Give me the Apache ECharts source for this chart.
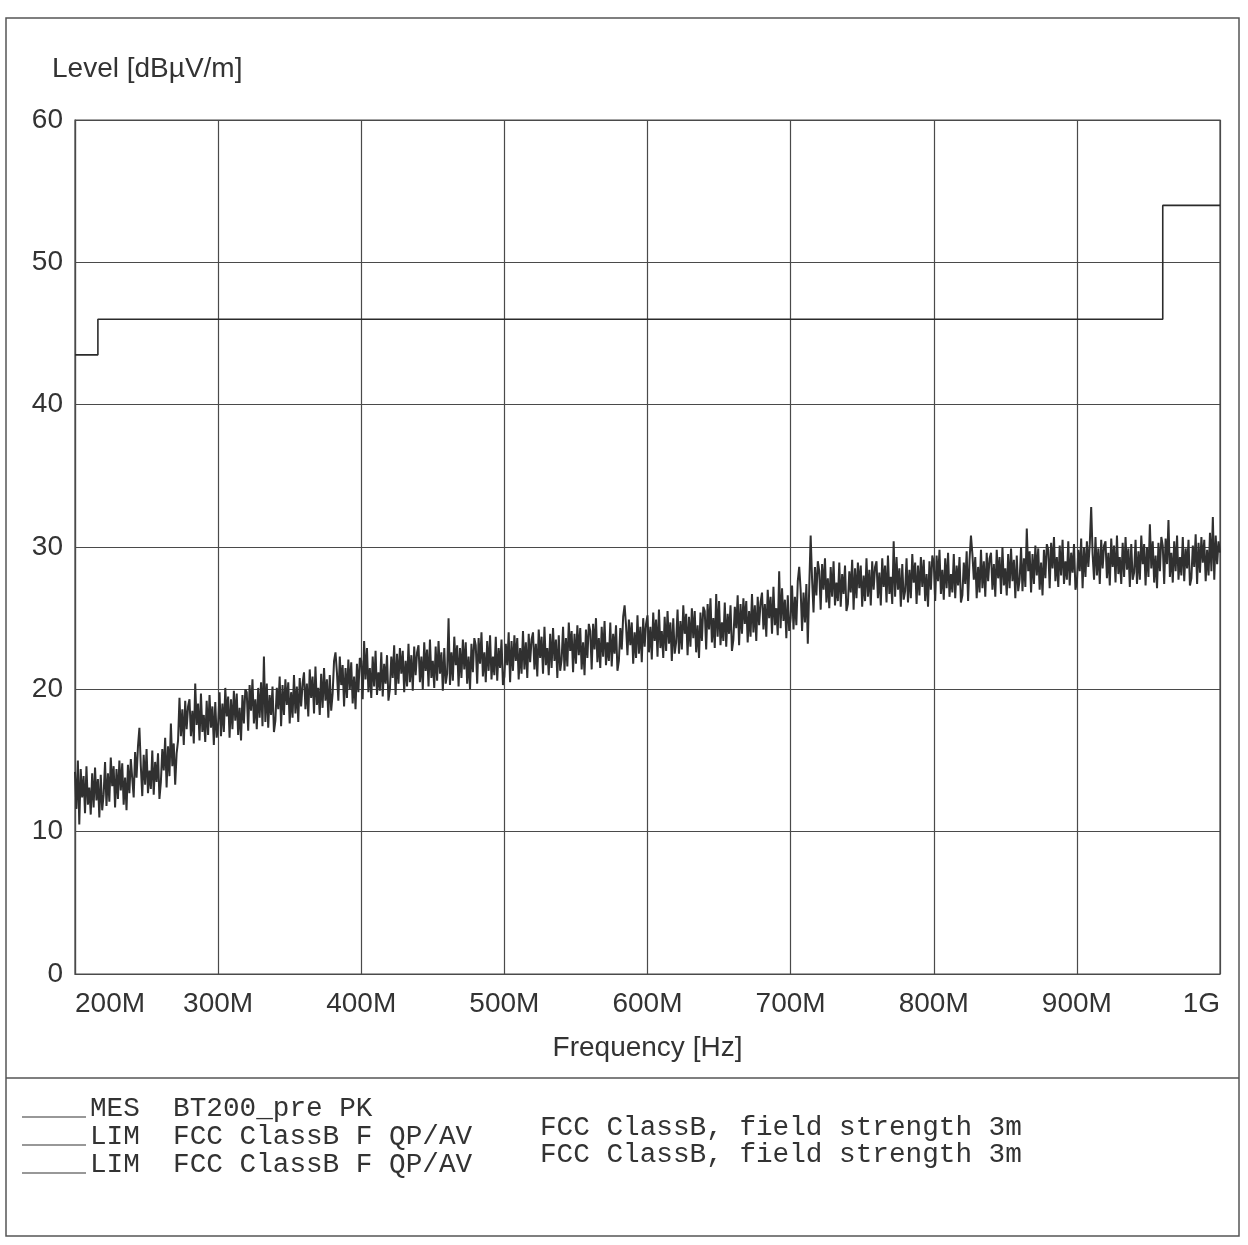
<!DOCTYPE html>
<html>
<head>
<meta charset="utf-8">
<script src="https://cdn.jsdelivr.net/npm/echarts@6/dist/echarts.min.js"></script>
<style>
  html, body { margin: 0; padding: 0; background: #ffffff; }
  #chart { width: 1248px; height: 1245px; }
</style>
</head>
<body>
<div id="chart"></div>
<script>
// ---- Data ----
// Measurement sweep: starts at 200 MHz, one reading every 1 MHz (801 readings up to 1 GHz)
const mesStartMHz = 200;
const mesStepMHz = 1;
const mesLevel = [
  // 200-219
  14.2, 11.6, 15.0, 10.5, 14.4, 12.4, 13.9, 11.3, 14.6, 11.9, 13.1, 11.2, 14.1, 11.7, 14.5, 12.2, 13.7, 11.0, 14.0, 11.5,
  // 220-239
  12.6, 14.9, 11.8, 14.1, 12.1, 15.2, 13.2, 14.6, 11.7, 14.4, 12.3, 15.0, 12.9, 14.8, 11.9, 13.8, 11.5, 14.7, 12.7, 15.1,
  // 240-259
  15.1, 12.4, 15.6, 13.8, 16.0, 17.3, 14.6, 12.5, 15.4, 13.3, 15.8, 12.7, 14.3, 13.0, 15.7, 12.6, 14.9, 13.5, 15.5, 12.3,
  // 260-271
  13.5, 15.8, 14.3, 16.6, 13.1, 16.0, 13.9, 17.6, 14.6, 16.2, 13.3, 15.5,
  // 272-279
  16.4, 19.4, 16.7, 18.6, 16.1, 19.2, 17.2, 18.8,
  // 280-299
  19.3, 16.7, 18.5, 16.2, 20.4, 17.5, 19.0, 16.4, 19.7, 17.0, 18.2, 16.3, 19.2, 16.8, 19.6, 17.3, 18.8, 16.1, 19.1, 16.6,
  // 300-319
  17.5, 19.8, 16.7, 19.0, 17.0, 20.1, 18.1, 19.5, 16.6, 19.3, 17.2, 19.9, 17.8, 19.7, 16.8, 18.7, 16.4, 19.6, 17.6, 20.0,
  // 320-339
  19.8, 17.1, 20.3, 18.5, 20.7, 17.6, 19.3, 17.2, 20.1, 18.0, 20.5, 17.4, 22.3, 17.7, 20.4, 17.3, 19.6, 18.2, 20.2, 17.0,
  // 340-359
  17.8, 20.1, 18.6, 20.9, 17.4, 20.3, 18.2, 20.7, 18.9, 20.5, 17.6, 19.8, 18.0, 21.0, 18.3, 20.2, 17.7, 20.8, 18.8, 20.4,
  // 360-379
  21.2, 18.6, 20.4, 18.1, 21.4, 19.4, 20.9, 18.3, 21.6, 18.9, 20.1, 18.2, 21.1, 18.7, 21.5, 19.2, 20.7, 18.0, 21.0, 18.5,
  // 380-399
  19.7, 22.0, 22.6, 21.2, 19.2, 22.3, 20.3, 21.7, 18.8, 21.5, 19.4, 22.1, 20.0, 21.9, 19.0, 20.9, 18.6, 21.8, 19.8, 22.2,
  // 400-419
  22.0, 19.3, 23.4, 20.7, 22.9, 19.8, 21.5, 19.4, 22.3, 20.2, 22.7, 19.6, 21.2, 19.9, 22.6, 19.5, 21.8, 20.4, 22.4, 19.2,
  // 420-439
  20.0, 22.3, 20.8, 23.1, 19.6, 22.5, 20.4, 22.9, 21.1, 22.7, 19.8, 22.0, 20.2, 23.2, 20.5, 22.4, 19.9, 23.0, 21.0, 22.6,
  // 440-459
  23.1, 20.5, 22.3, 20.0, 23.3, 21.3, 22.8, 20.2, 23.5, 20.8, 22.0, 20.1, 23.0, 20.6, 23.4, 21.1, 22.6, 19.9, 22.9, 20.4,
  // 460-479
  21.1, 25.0, 20.3, 22.6, 20.6, 23.7, 21.7, 23.1, 20.2, 22.9, 20.8, 23.5, 21.4, 23.3, 20.4, 22.3, 20.0, 23.2, 21.2, 23.6,
  // 480-499
  23.1, 20.4, 23.6, 21.8, 24.0, 20.9, 22.6, 20.5, 23.4, 21.3, 23.8, 20.7, 22.3, 21.0, 23.7, 20.6, 22.9, 21.5, 23.5, 20.3,
  // 500-519
  20.9, 23.2, 21.7, 24.0, 20.5, 23.4, 21.3, 23.8, 22.0, 23.6, 20.7, 22.9, 21.1, 24.1, 21.4, 23.3, 20.8, 23.9, 21.9, 23.5,
  // 520-539
  24.0, 21.4, 23.2, 20.9, 24.2, 22.2, 23.7, 21.1, 24.4, 21.7, 22.9, 21.0, 23.9, 21.5, 24.3, 22.0, 23.5, 20.8, 23.8, 21.3,
  // 540-559
  22.1, 24.4, 21.3, 23.6, 21.6, 24.7, 22.7, 24.1, 21.2, 23.9, 21.8, 24.5, 22.4, 24.3, 21.4, 23.3, 21.0, 24.2, 22.2, 24.6,
  // 560-579
  24.1, 21.4, 24.6, 22.8, 25.0, 21.9, 23.6, 21.5, 24.4, 22.3, 24.8, 21.7, 23.3, 22.0, 24.7, 21.6, 23.9, 22.5, 24.5, 21.3,
  // 580-599
  22.0, 24.3, 22.8, 25.1, 25.9, 24.5, 22.4, 24.9, 23.1, 24.7, 21.8, 24.0, 22.2, 25.2, 22.5, 24.4, 21.9, 25.0, 23.0, 24.6,
  // 600-619
  25.2, 22.6, 24.4, 22.1, 25.4, 23.4, 24.9, 22.3, 25.6, 22.9, 24.1, 22.2, 25.1, 22.7, 25.5, 23.2, 24.7, 22.0, 25.0, 22.5,
  // 620-639
  23.3, 25.6, 22.5, 24.8, 22.8, 25.9, 23.9, 25.3, 22.4, 25.1, 23.0, 25.7, 23.6, 25.5, 22.6, 24.5, 22.2, 25.4, 23.4, 25.8,
  // 640-659
  25.5, 22.8, 26.0, 24.2, 26.4, 23.3, 25.0, 22.9, 26.7, 23.7, 26.2, 23.1, 24.7, 23.4, 26.1, 23.0, 25.3, 23.9, 25.9, 22.7,
  // 660-679
  23.5, 25.8, 24.3, 26.6, 23.1, 26.0, 23.9, 26.4, 24.6, 26.2, 23.3, 25.5, 23.7, 26.7, 24.0, 25.9, 23.4, 26.5, 24.5, 26.1,
  // 680-699
  26.8, 24.2, 26.0, 23.7, 27.0, 25.0, 26.5, 23.9, 27.2, 24.5, 25.7, 23.8, 28.3, 24.3, 27.1, 24.8, 26.3, 23.6, 26.6, 24.1,
  // 700-713
  25.0, 27.3, 24.2, 26.5, 24.5, 27.6, 28.6, 27.0, 24.1, 26.8, 24.7, 27.4, 23.2, 27.2,
  // 714-719
  30.8, 27.7, 25.4, 28.6, 26.6, 29.0,
  // 720-739
  28.3, 25.6, 28.8, 27.0, 29.2, 26.1, 27.8, 25.7, 28.6, 26.5, 29.0, 25.9, 27.5, 26.2, 28.9, 25.8, 28.1, 26.7, 28.7, 25.5,
  // 740-759
  26.0, 28.3, 26.8, 29.1, 25.6, 28.5, 26.4, 28.9, 27.1, 28.7, 25.8, 28.0, 26.2, 29.2, 26.5, 28.4, 25.9, 29.0, 27.0, 28.6,
  // 760-779
  29.0, 26.4, 28.2, 25.9, 29.2, 27.2, 28.7, 26.1, 29.4, 26.7, 27.9, 26.0, 30.4, 26.5, 29.3, 27.0, 28.5, 25.8, 28.8, 26.3,
  // 780-799
  26.9, 29.2, 26.1, 28.4, 26.4, 29.5, 27.5, 28.9, 26.0, 28.7, 26.6, 29.3, 27.2, 29.1, 26.2, 28.1, 25.8, 29.0, 27.0, 29.4,
  // 800-819
  28.9, 26.2, 29.4, 27.6, 29.8, 26.7, 28.4, 26.3, 29.2, 27.1, 29.6, 26.5, 28.1, 26.8, 29.5, 26.4, 28.7, 27.3, 29.3, 26.1,
  // 820-839
  26.6, 28.9, 27.4, 29.7, 26.2, 29.1, 30.8, 29.5, 27.7, 29.3, 26.4, 28.6, 26.8, 29.8, 27.1, 29.0, 26.5, 29.6, 27.6, 29.2,
  // 840-859
  29.6, 27.0, 28.8, 26.5, 29.8, 27.8, 29.3, 26.7, 30.0, 27.3, 28.5, 26.6, 29.5, 27.1, 29.9, 27.6, 29.1, 26.4, 29.4, 26.9,
  // 860-879
  27.7, 30.0, 26.9, 29.2, 27.2, 31.3, 28.3, 29.7, 26.8, 29.5, 27.4, 30.1, 28.0, 29.9, 27.0, 28.9, 26.6, 29.8, 27.8, 30.2,
  // 880-899
  29.8, 27.1, 30.3, 28.5, 30.7, 27.6, 29.3, 27.2, 30.1, 28.0, 30.5, 27.4, 29.0, 27.7, 30.4, 27.3, 29.6, 28.2, 30.2, 27.0,
  // 900-919
  27.5, 29.8, 28.3, 30.6, 27.1, 30.0, 27.9, 30.4, 28.6, 30.2, 32.8, 29.5, 27.7, 30.7, 28.0, 29.9, 27.4, 30.5, 28.5, 30.1,
  // 920-939
  30.4, 27.8, 29.6, 27.3, 30.6, 28.6, 30.1, 27.5, 30.8, 28.1, 29.3, 27.4, 30.3, 27.9, 30.7, 28.4, 29.9, 27.2, 30.2, 27.7,
  // 940-959
  28.2, 30.5, 27.4, 29.7, 27.7, 30.8, 28.8, 30.2, 27.3, 30.0, 27.9, 31.6, 28.5, 30.4, 27.5, 29.4, 27.1, 30.3, 28.3, 30.7,
  // 960-979
  30.1, 27.4, 30.6, 28.8, 31.9, 27.9, 29.6, 27.5, 30.4, 28.3, 30.8, 27.7, 29.3, 28.0, 30.7, 27.6, 29.9, 28.5, 30.5, 27.3,
  // 980-999
  27.8, 30.1, 28.6, 30.9, 27.4, 30.3, 28.2, 30.7, 28.9, 30.5, 27.6, 29.8, 28.0, 31.0, 28.3, 32.1, 27.7, 30.8, 28.8, 30.4,
  // 1000
  29.6
];

// Limit line (FCC Class B, 3 m) step points
const limFreqMHz = [200, 216, 216, 960, 960, 1000];
const limLevel   = [43.5, 43.5, 46, 46, 54, 54];

// Axis ticks
const xTickValuesMHz = [200, 300, 400, 500, 600, 700, 800, 900, 1000];
const xTickLabels    = ['200M', '300M', '400M', '500M', '600M', '700M', '800M', '900M', '1G'];
const yTickValues    = [0, 10, 20, 30, 40, 50, 60];

// Legend rows
const legendRows = [
  { code: 'MES', name: 'BT200_pre PK', desc: '' },
  { code: 'LIM', name: 'FCC ClassB F QP/AV', desc: 'FCC ClassB, field strength 3m' },
  { code: 'LIM', name: 'FCC ClassB F QP/AV', desc: 'FCC ClassB, field strength 3m' }
];

// ---- Build chart ----
const mesData = mesLevel.map((v, i) => [mesStartMHz + i * mesStepMHz, v]);
const limData = limFreqMHz.map((f, i) => [f, limLevel[i]]);

const chart = echarts.init(document.getElementById('chart'), null, { renderer: 'canvas' });

const ink = '#2b2b2b';
const gridInk = '#4a4a4a';
const sans = 'Liberation Sans, Arial, sans-serif';
const mono = 'Liberation Mono, Courier New, monospace';
const sansSize = 28;

const graphics = [
  // outer frame
  { type: 'rect', shape: { x: 6, y: 18, width: 1233, height: 1218 },
    style: { fill: 'none', stroke: '#555', lineWidth: 1.5 }, silent: true },
  // legend separator
  { type: 'line', shape: { x1: 6, y1: 1078, x2: 1239, y2: 1078 },
    style: { stroke: '#555', lineWidth: 1.5 }, silent: true },
  // y axis title
  { type: 'text', x: 52, y: 69,
    style: { text: 'Level [dBµV/m]', font: sansSize + 'px ' + sans, fill: '#333', textVerticalAlign: 'middle' }, silent: true }
];

const rowY = [1109, 1137, 1165];
const rightY = [0, 1128, 1155];
legendRows.forEach((r, i) => {
  graphics.push({ type: 'line', shape: { x1: 22, y1: rowY[i] + 8, x2: 86, y2: rowY[i] + 8 },
    style: { stroke: '#333', lineWidth: 1.2 }, silent: true });
  graphics.push({ type: 'text', x: 90, y: rowY[i],
    style: { text: r.code + '  ' + r.name, font: '27.7px ' + mono, fill: '#333', textVerticalAlign: 'middle' }, silent: true });
  if (r.desc) {
    graphics.push({ type: 'text', x: 540, y: rightY[i],
      style: { text: r.desc, font: '27.7px ' + mono, fill: '#333', textVerticalAlign: 'middle' }, silent: true });
  }
});

const option = {
  animation: false,
  backgroundColor: '#ffffff',
  grid: {
    left: 75, right: 28, top: 120, bottom: 271,
    show: true, borderColor: gridInk, borderWidth: 1.2, backgroundColor: 'transparent'
  },
  xAxis: {
    type: 'value',
    min: xTickValuesMHz[0],
    max: xTickValuesMHz[xTickValuesMHz.length - 1],
    interval: 100,
    name: 'Frequency [Hz]',
    nameLocation: 'middle',
    nameGap: 60,
    nameTextStyle: { fontFamily: sans, fontSize: sansSize, color: '#333' },
    axisLine: { show: true, lineStyle: { color: gridInk, width: 1.2 } },
    axisTick: { show: false },
    axisLabel: {
      fontFamily: sans, fontSize: sansSize, color: '#333', margin: 16,
      alignMinLabel: 'left', alignMaxLabel: 'right',
      formatter: v => { const k = xTickValuesMHz.indexOf(v); return k >= 0 ? xTickLabels[k] : ''; }
    },
    splitLine: { show: true, lineStyle: { color: gridInk, width: 1.2 } }
  },
  yAxis: {
    type: 'value',
    min: yTickValues[0],
    max: yTickValues[yTickValues.length - 1],
    interval: 10,
    axisLine: { show: true, lineStyle: { color: gridInk, width: 1.2 } },
    axisTick: { show: false },
    axisLabel: { fontFamily: sans, fontSize: sansSize, color: '#333', margin: 12 },
    splitLine: { show: true, lineStyle: { color: gridInk, width: 1.2 } }
  },
  series: [
    {
      name: 'MES BT200_pre PK', type: 'line', data: mesData,
      showSymbol: false, symbol: 'none',
      lineStyle: { color: '#303030', width: 2.0 }, z: 3
    },
    {
      name: 'LIM FCC ClassB F QP/AV', type: 'line', data: limData,
      showSymbol: false, symbol: 'none',
      lineStyle: { color: ink, width: 1.6 }, z: 2
    }
  ],
  graphic: graphics
};

chart.setOption(option);
</script>
</body>
</html>
